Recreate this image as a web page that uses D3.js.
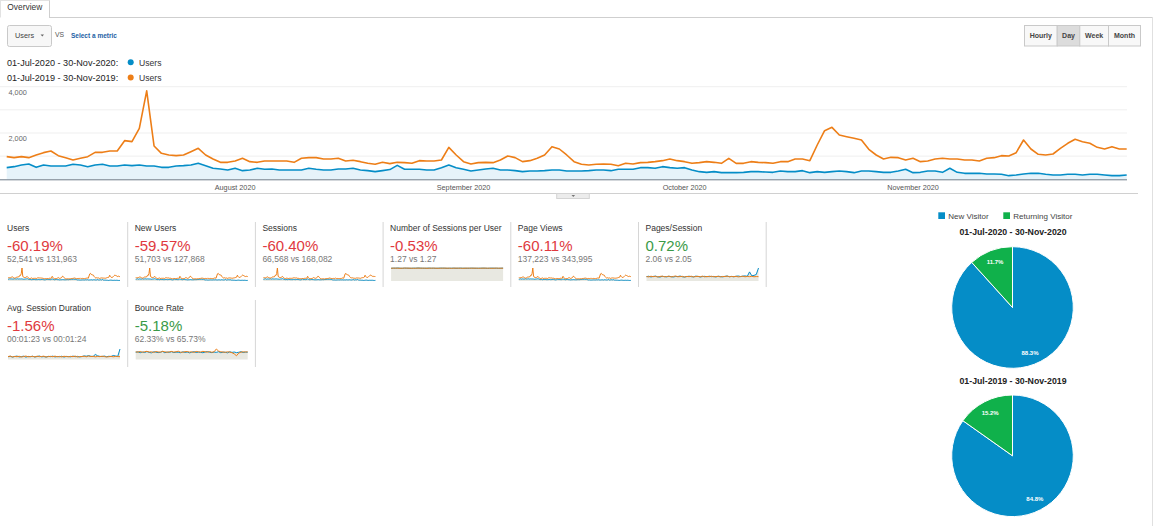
<!DOCTYPE html>
<html><head><meta charset="utf-8">
<script src="https://cdn.jsdelivr.net/npm/d3@7"></script>
<style>
body{margin:0;background:#fff;}
svg{display:block;font-family:"Liberation Sans",Arial,sans-serif;}
</style></head><body>
<svg id="c" width="1155" height="526"></svg>
<script>
// ---- Data ----
const users2020 = [
503,546,618,661,517,618,575,575,575,647,
618,546,618,647,575,575,618,589,618,575,
575,517,517,575,589,618,690,589,474,445,
402,474,373,402,474,431,445,402,402,402,
402,474,431,402,402,445,445,474,402,373,
330,373,420,600,431,431,431,402,402,503,
618,503,431,359,402,445,474,402,402,373,
330,359,359,373,402,402,359,359,359,373,
402,402,373,431,431,431,503,503,474,546,
503,474,503,402,330,301,330,287,287,287,
301,330,330,315,301,359,330,330,373,287,
330,301,330,359,330,287,359,359,330,301,
301,359,431,287,301,359,359,301,474,301,
258,258,258,229,229,215,157,186,229,258,
258,215,186,186,215,215,186,215,215,186,
157,157,186];
const users2019 = [
978,935,978,935,1050,1151,1223,1021,935,834,
906,978,1165,1165,1223,1223,1669,1626,2202,3820,
1439,1122,1050,1021,1050,1194,1338,1050,877,733,
733,791,906,762,733,791,791,791,791,733,
906,935,935,877,877,906,791,820,762,690,
647,733,676,733,719,690,805,791,791,834,
1381,1050,762,661,719,733,719,834,1007,935,
762,805,906,1050,1410,1309,1050,762,647,618,
647,661,647,589,690,661,719,733,762,805,
877,805,762,690,719,762,733,690,906,690,
690,762,733,719,690,762,762,877,877,805,
1482,2101,2245,1914,1842,1770,1698,1295,1050,877,
949,935,834,906,762,791,877,906,877,877,
834,834,791,906,935,1021,1007,1151,1698,1309,
1079,1050,1093,1338,1554,1727,1626,1554,1381,1309,
1410,1309,1309];
const startDate = "2020-07-01";
const yTicks = [1000,2000,3000,4000];
const yLabelTicks = [2000,4000];
const monthTicks = ["2020-08-01","2020-09-01","2020-10-01","2020-11-01"];
const monthLabels = ["August 2020","September 2020","October 2020","November 2020"];
const periodLabels = ["01-Jul-2020 - 30-Nov-2020","01-Jul-2019 - 30-Nov-2019"];
const granularity = ["Hourly","Day","Week","Month"];

const metricNames = ["Users","New Users","Sessions","Number of Sessions per User","Page Views","Pages/Session","Avg. Session Duration","Bounce Rate"];
const metricChange = ["-60.19%","-59.57%","-60.40%","-0.53%","-60.11%","0.72%","-1.56%","-5.18%"];
const metricCompare = ["52,541 vs 131,963","51,703 vs 127,868","66,568 vs 168,082","1.27 vs 1.27","137,223 vs 343,995","2.06 vs 2.05","00:01:23 vs 00:01:24","62.33% vs 65.73%"];
const metricImproved = [false,false,false,false,false,true,false,true];

// sparkline series for ratio metrics (sampled every 3 days)
const spu2020 = [1.26,1.28,1.27,1.29,1.27,1.26,1.28,1.27,1.27,1.26,1.28,1.27,1.29,1.28,1.27,1.26,1.27,1.28,1.27,1.27,1.26,1.27,1.28,1.28,1.27,1.26,1.27,1.27,1.28,1.26,1.27,1.28,1.27,1.27,1.26,1.27,1.28,1.27,1.26,1.27,1.27,1.28,1.27,1.26,1.27,1.28,1.27,1.27,1.26,1.27,1.28];
const spu2019 = [1.27,1.27,1.28,1.27,1.26,1.27,1.28,1.28,1.27,1.27,1.26,1.27,1.28,1.27,1.27,1.28,1.26,1.27,1.27,1.28,1.27,1.26,1.27,1.27,1.28,1.27,1.27,1.26,1.27,1.28,1.27,1.27,1.26,1.27,1.28,1.27,1.27,1.27,1.28,1.26,1.27,1.27,1.28,1.27,1.27,1.26,1.27,1.28,1.27,1.27,1.27];
const pps2020 = [2.0,2.2,1.85,2.1,2.25,1.95,1.8,2.15,2.05,1.9,2.2,2.0,1.85,2.1,2.05,2.3,1.95,1.85,2.05,2.2,2.0,1.9,2.25,2.1,1.85,2.05,2.15,1.95,2.2,2.0,2.1,1.85,2.2,2.05,1.9,2.15,2.3,2.0,2.1,1.95,2.2,2.3,2.05,2.25,2.35,2.15,4.2,2.4,2.6,3.0,6.0];
const pps2019 = [2.05,1.9,2.2,2.0,2.15,1.85,2.1,2.25,1.95,2.05,2.2,1.9,2.1,2.3,1.95,2.05,2.15,1.85,2.1,2.0,2.2,1.9,2.05,2.15,1.95,2.25,1.9,2.1,2.0,2.2,1.95,2.05,2.15,1.9,2.1,2.05,2.25,1.95,2.1,2.0,2.15,1.9,2.05,2.2,1.95,2.1,2.0,2.15,1.95,2.05,2.0];
const dur2020 = [78,92,70,86,98,74,83,95,68,88,80,94,72,85,100,76,84,70,90,82,96,74,86,79,93,70,88,84,77,97,81,90,73,86,102,95,110,92,88,145,105,90,84,98,80,92,86,115,100,90,300];
const dur2019 = [84,96,74,88,80,92,72,86,98,78,84,90,75,94,82,86,95,72,84,90,80,96,78,88,74,92,85,78,90,82,97,72,86,84,94,78,100,84,90,76,88,82,95,84,72,80,90,78,88,84,80];
const bounce2020 = [62,66,58,64,60,68,61,57,66,63,59,62,69,58,64,61,67,59,63,62,58,66,61,64,57,62,67,60,63,61,58,64,68,62,59,64,61,67,58,63,62,57,66,61,64,59,62,67,60,64,62];
const bounce2019 = [66,63,69,62,67,70,64,66,61,68,65,63,70,66,62,66,69,64,66,71,63,62,67,68,64,66,61,69,66,64,70,66,63,68,62,66,90,72,66,64,62,66,64,58,48,32,55,63,66,64,66];

const sparkSeries = [
  [users2020, users2019], [users2020, users2019], [users2020, users2019],
  [spu2020, spu2019], [users2020, users2019], [pps2020, pps2019],
  [dur2020, dur2019], [bounce2020, bounce2019]
];

const pieLabels = ["New Visitor","Returning Visitor"];
const pie2020 = [88.3, 11.7];
const pie2019 = [84.8, 15.2];

// ---- Styles ----
const BLUE = "#058dc7", ORANGE = "#ed7e17", GREEN = "#10b14b";
const svg = d3.select("#c");

// ---- Header ----
svg.append("line").attr("x1",49).attr("x2",1153).attr("y1",17.5).attr("y2",17.5).attr("stroke","#cfcfcf");
svg.append("line").attr("x1",49.5).attr("x2",49.5).attr("y1",0).attr("y2",17.5).attr("stroke","#cfcfcf");
svg.append("line").attr("x1",0.5).attr("x2",0.5).attr("y1",0).attr("y2",17.5).attr("stroke","#e2e2e2");
svg.append("line").attr("x1",0).attr("x2",49.5).attr("y1",0.5).attr("y2",0.5).attr("stroke","#e2e2e2");
svg.append("text").attr("x",7.3).attr("y",10.2).attr("font-size",8.4).attr("fill","#333").text("Overview");
svg.append("line").attr("x1",1152.5).attr("x2",1152.5).attr("y1",17).attr("y2",526).attr("stroke","#e0e0e0");

// dropdown
svg.append("rect").attr("x",7.5).attr("y",25.5).attr("width",44).attr("height",21).attr("rx",2)
  .attr("fill","#f7f7f7").attr("stroke","#c9c9c9");
svg.append("text").attr("x",15).attr("y",38.2).attr("font-size",7.3).attr("fill","#444").text(metricNames[0]);
svg.append("path").attr("d","M40.6,34.6 L44,34.6 L42.3,36.6 Z").attr("fill","#666");
svg.append("text").attr("x",55).attr("y",36.7).attr("font-size",6.8).attr("fill","#555").text("VS");
svg.append("text").attr("x",71).attr("y",38.2).attr("font-size",6.5).attr("font-weight","bold").attr("fill","#1d5fa5").text("Select a metric");

// granularity buttons
const btnX = [1024, 1056.7, 1079.3, 1108, 1140];
granularity.forEach((g,i)=>{
  svg.append("rect").attr("x",btnX[i]+0.5).attr("y",25.5).attr("width",btnX[i+1]-btnX[i]).attr("height",20.5)
    .attr("fill", i===1 ? "#dcdcdc" : "#f8f8f8").attr("stroke","#c9c9c9");
  svg.append("text").attr("x",(btnX[i]+btnX[i+1])/2+0.5).attr("y",38.3).attr("text-anchor","middle")
    .attr("font-size",7).attr("font-weight","bold").attr("fill","#444").text(g);
});

// legend
const legColors = [BLUE, ORANGE];
periodLabels.forEach((p,i)=>{
  const cy = 62.3 + i*15.2;
  svg.append("text").attr("x",7).attr("y",cy+3.2).attr("font-size",9.1).attr("fill","#222").text(p + ":");
  svg.append("circle").attr("cx",130.7).attr("cy",cy).attr("r",3).attr("fill",legColors[i]);
  svg.append("text").attr("x",139).attr("y",cy+3.2).attr("font-size",8.6).attr("fill","#333").text(metricNames[0]);
});

// ---- Main chart ----
const parse = d3.utcParse("%Y-%m-%d");
const start = parse(startDate);
const dates = users2020.map((d,i)=> d3.utcDay.offset(start,i));
const x = d3.scaleUtc().domain([dates[0], dates[dates.length-1]]).range([6.7,1126.7]);
const y = d3.scaleLinear().domain([0,4000]).range([179.3,86.7]);

const g = svg.append("g");
yTicks.forEach(t=>{
  g.append("line").attr("x1",0).attr("x2",1127).attr("y1",y(t)).attr("y2",y(t)).attr("stroke","#efefef");
});
yLabelTicks.forEach(t=>{
  g.append("text").attr("x",8.5).attr("y",y(t)+8.3).attr("font-size",7.3).attr("fill","#666").text(d3.format(",")(t));
});
const area = d3.area().x((d,i)=>x(dates[i])).y0(y(0)).y1(d=>y(d));
const line = d3.line().x((d,i)=>x(dates[i])).y(d=>y(d));
g.append("path").datum(users2020).attr("d",area).attr("fill","#e6f3fa");
g.append("line").attr("x1",0).attr("x2",1127).attr("y1",y(0)+0.5).attr("y2",y(0)+0.5).attr("stroke","#6d7b88");
g.append("path").datum(users2019).attr("d",line).attr("fill","none").attr("stroke",ORANGE).attr("stroke-width",1.6).attr("stroke-linejoin","round");
g.append("path").datum(users2020).attr("d",line).attr("fill","none").attr("stroke",BLUE).attr("stroke-width",1.6).attr("stroke-linejoin","round");
monthTicks.forEach((m,i)=>{
  g.append("text").attr("x",x(parse(m))).attr("y",189.5).attr("text-anchor","middle")
    .attr("font-size",7.25).attr("fill","#555").text(monthLabels[i]);
});
g.append("line").attr("x1",0).attr("x2",1138).attr("y1",193.5).attr("y2",193.5).attr("stroke","#d0d0d0");
g.append("rect").attr("x",556.7).attr("y",193.5).attr("width",32.6).attr("height",5).attr("fill","#ececec").attr("stroke","#d4d4d4");
g.append("path").attr("d","M571.5,195 L575.1,195 L573.3,197 Z").attr("fill","#777");

// ---- Metric tiles ----
const step = 127.7;
metricNames.forEach((name,i)=>{
  const row = i < 6 ? 0 : 1, col = i < 6 ? i : i-6;
  const tx = 7 + step*col;
  const base = row === 0 ? 228.3 : 308.3;
  const t = svg.append("g");
  t.append("text").attr("x",tx).attr("y",base+3).attr("font-size",8.5).attr("fill","#333").text(name);
  t.append("text").attr("x",tx).attr("y",base+22.8).attr("font-size",15).attr("fill",metricImproved[i] ? "#3a9a48" : "#e0393e").text(metricChange[i]);
  t.append("text").attr("x",tx).attr("y",base+34).attr("font-size",8.5).attr("fill","#777").text(metricCompare[i]);
  // divider
  const dx = step*(col+1);
  t.append("line").attr("x1",dx).attr("x2",dx)
    .attr("y1", row===0 ? 222 : 300).attr("y2", row===0 ? 287 : 367).attr("stroke","#d6d6d6");
  // sparkline
  const [s20, s19] = sparkSeries[i];
  const yb = row===0 ? 281 : 359.5, yt = row===0 ? 268 : 349;
  const sx = d3.scaleLinear().domain([0, s20.length-1]).range([tx+1, tx+113]);
  const sy = d3.scaleLinear().domain([0, d3.max(s20.concat(s19))]).range([yb, yt]);
  t.append("path").datum(s20).attr("d", d3.area().x((d,k)=>sx(k)).y0(yb).y1(d=>sy(d))).attr("fill","#e8e8e1");
  t.append("path").datum(s20).attr("d", d3.line().x((d,k)=>sx(k)).y(d=>sy(d))).attr("fill","none").attr("stroke",BLUE).attr("stroke-width",1);
  t.append("path").datum(s19).attr("d", d3.line().x((d,k)=>sx(k)).y(d=>sy(d))).attr("fill","none").attr("stroke",ORANGE).attr("stroke-width",1);
});

// ---- Pies ----
const pieColors = [BLUE, GREEN];
pieLabels.forEach((p,i)=>{
  const lx = i===0 ? 938.3 : 1003.3;
  svg.append("rect").attr("x",lx).attr("y",212.3).attr("width",6.7).attr("height",6.7).attr("fill",pieColors[i]);
  svg.append("text").attr("x",lx+10).attr("y",218.6).attr("font-size",8).attr("fill","#444").text(p);
});
const pieGen = d3.pie().sort(null).value(d=>d);
const R = 60.8;
const arc = d3.arc().innerRadius(0).outerRadius(R);
const labArc = d3.arc().innerRadius(R*0.8).outerRadius(R*0.8);
[[pie2020, 307.5, 232.3], [pie2019, 455.8, 380.7]].forEach(([vals, cy, ty], j)=>{
  svg.append("text").attr("x",1013).attr("y",ty+3.1).attr("text-anchor","middle").attr("font-size",8.75)
    .attr("font-weight","bold").attr("fill","#222").text(periodLabels[j]);
  const pg = svg.append("g").attr("transform",`translate(1012.5,${cy})`);
  const arcs = pieGen(vals);
  pg.selectAll("path").data(arcs).join("path").attr("d",arc).attr("fill",(d,k)=>pieColors[k])
    .attr("stroke","#fff").attr("stroke-width",1);
  pg.selectAll("text").data(arcs).join("text")
    .attr("transform",d=>`translate(${labArc.centroid(d)})`).attr("dy","0.35em")
    .attr("text-anchor","middle").attr("font-size",6).attr("font-weight","bold").attr("fill","#fff")
    .text(d=>d.data.toFixed(1)+"%");
});
</script>
</body></html>
